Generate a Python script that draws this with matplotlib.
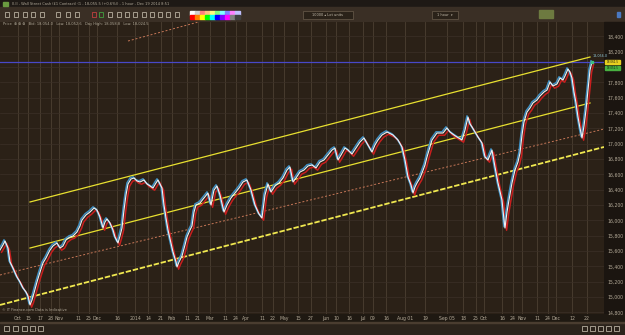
import numpy as np
import matplotlib
matplotlib.use("Agg")
import matplotlib.pyplot as plt
from matplotlib.patches import Rectangle
from matplotlib.transforms import offset_copy

bar = [0, 3, 5, 8, 10, 13, 17, 20, 23, 26, 28, 30, 32, 34, 37, 40, 43, 46, 50, 53,
       57, 60, 63, 66, 70, 73, 77, 80, 82, 86, 90, 94, 97, 100, 103, 105, 107, 110, 113, 115,
       118, 120, 122, 124, 126, 128, 131, 134, 137, 140, 144, 147, 150, 153, 156, 158, 160, 162, 164, 166,
       168, 171, 173, 176, 177, 179, 182, 185, 187, 190, 192, 194, 196, 200, 204, 208, 211, 214, 217, 220,
       224, 227, 231, 235, 239, 243, 247, 251, 255, 259, 262, 265, 268, 271, 275, 279, 283, 287, 290, 293,
       296, 300, 304, 308, 312, 316, 320, 324, 328, 332, 335, 338, 341, 345, 348, 352, 356, 360, 364, 368,
       372, 375, 378, 382, 387, 393, 398, 402, 405, 408, 411, 413, 415, 417, 420, 422, 425, 427, 430, 432,
       437, 443, 447, 450, 454, 457, 462, 465, 468, 470, 472, 475, 478, 482, 485, 488, 492, 495, 498, 502,
       504, 505, 507, 509, 512, 515, 518, 520, 522, 524, 527, 530, 533, 537, 540, 544, 547, 550, 553, 557,
       560, 563, 565, 568, 570, 572, 574, 576, 578, 580, 582, 584, 586, 588, 590, 592]
close = [15613, 15679, 15731, 15639, 15457, 15378, 15261, 15196, 15117, 15065, 15013, 14896, 14961, 15052, 15196, 15326, 15444, 15509, 15613, 15666,
         15705, 15639, 15666, 15744, 15783, 15796, 15848, 15927, 16005, 16070, 16109, 16161, 16135, 16044, 15900, 15979, 16018, 15966, 15874, 15783,
         15705, 15796, 15900, 16135, 16331, 16475, 16540, 16553, 16514, 16501, 16527, 16475, 16449, 16422, 16488, 16527, 16475, 16422, 16200, 16031,
         15874, 15705, 15587, 15457, 15392, 15457, 15535, 15679, 15783, 15874, 15927, 16109, 16200, 16227, 16292, 16357, 16200, 16396, 16449, 16331,
         16109, 16200, 16292, 16357, 16422, 16501, 16527, 16396, 16200, 16083, 16031, 16331, 16475, 16370, 16449, 16488, 16553, 16657, 16697, 16501,
         16553, 16631, 16657, 16710, 16723, 16684, 16762, 16788, 16853, 16918, 16944, 16788, 16853, 16944, 16918, 16866, 16944, 17023, 17075, 16984,
         16892, 16984, 17049, 17114, 17153, 17114, 17049, 16958, 16788, 16566, 16462, 16357, 16436, 16488, 16553, 16618, 16723, 16827, 16958, 17049,
         17140, 17140, 17205, 17153, 17114, 17088, 17049, 17179, 17349, 17258, 17219, 17153, 17088, 17010, 16827, 16788, 16918, 16697, 16488, 16266,
         16005, 15900, 16109, 16266, 16488, 16657, 16762, 16879, 17114, 17284, 17414, 17466, 17532, 17571, 17623, 17675, 17701, 17806, 17754, 17780,
         17858, 17832, 17884, 17975, 17936, 17858, 17675, 17532, 17349, 17205, 17075, 17232, 17440, 17701, 17962, 18067]

# drawn channel lines: (bar0, price0, bar1, price1)
upper_line = (30, 16240, 590, 18132)
middle_line = (30, 15639, 590, 17532)
centre_dotted = (0, 15287, 604, 17192)
lower_line = (0, 14896, 604, 16958)
top_dotted = (128, 18341, 210, 18630)
last_price = 18067

price_levels = list(range(14800, 18401, 200))
date_pos = [18, 28, 40, 51, 59, 78, 89, 97, 117, 135, 148, 161, 172, 187, 198, 210, 225, 236,
            246, 262, 273, 284, 298, 311, 326, 336, 349, 363, 373, 386, 405, 425, 447, 463, 476,
            484, 502, 513, 522, 537, 548, 556, 572, 587]
date_lbl = ["Oct", "15", "17", "28", "Nov", "11", "25", "Dec", "16", "2014", "14", "21", "Feb", "11",
            "21", "Mar", "11", "24", "Apr", "11", "22", "May", "15", "27", "Jun", "10", "16", "Jul",
            "09", "16", "Aug 01", "19", "Sep 05", "18", "25", "Oct", "16", "24", "Nov", "11", "24",
            "Dec", "12", "22"]

W, H = 625, 335
fig = plt.figure(figsize=(W / 100, H / 100), dpi=100)
fig.patch.set_facecolor("#221b15")

# frame of the trading window, in screen pixels
bg = fig.add_axes([0, 0, 1, 1], zorder=0)
bg.set_xlim(0, W)
bg.set_ylim(H, 0)
bg.axis("off")
bg.add_patch(Rectangle((0, 0), W, 7, color="#1e1915"))
bg.add_patch(Rectangle((0, 7), W, 15, color="#3a2f25"))
bg.add_patch(Rectangle((604, 22), 21, 292, color="#1b1510"))
bg.add_patch(Rectangle((0, 314), W, 9, color="#1f1912"))
bg.add_patch(Rectangle((0, 323), W, 12, color="#2b231b"))
bg.add_patch(Rectangle((0, 322), W, 1.2, color="#4a3d30"))
bg.text(12, 3.6, "II.II - Wall Street Cash (£1 Contract) (1 - 18,055.5 (+0.6%)) - 1 hour - Dec 19 2014 8:51",
        fontsize=2.6, color="#b0a898", va="center")
bg.add_patch(Rectangle((3, 1.5), 5, 4, color="#6a9a40"))
# toolbar glyphs
for i, gx in enumerate([5, 14, 23, 31, 40, 56, 66, 75, 92, 99, 108, 117, 125, 133, 142, 150, 158, 166, 175]):
    c = ["#b8b0a0", "#c04040", "#40a040"][1 if i == 8 else 2 if i == 9 else 0]
    bg.add_patch(Rectangle((gx, 12), 4, 5, facecolor="none", edgecolor=c, lw=0.6))
pal = ["#ffffff", "#d0d0d0", "#ff8080", "#ffc080", "#ffff80", "#80ff80", "#80ffff", "#8080ff", "#ff80ff", "#c0c0ff",
       "#ff0000", "#ff8000", "#ffff00", "#00ff00", "#00ffff", "#0000ff", "#8000ff", "#ff00ff", "#808080", "#404040"]
for i, c in enumerate(pal):
    bg.add_patch(Rectangle((190 + (i % 10) * 5, 11 + (i // 10) * 4), 4.6, 3.6, color=c))
bg.add_patch(Rectangle((303, 10.5), 50, 8, facecolor="#2a2219", edgecolor="#6a5c4c", lw=0.5))
bg.text(328, 14.5, "10000 ▴ Lot units", fontsize=2.5, color="#c8c0b0", va="center", ha="center")
bg.add_patch(Rectangle((432, 10.5), 26, 8, facecolor="#2a2219", edgecolor="#6a5c4c", lw=0.5))
bg.text(437, 14.5, "1 hour  ▾", fontsize=2.5, color="#c8c0b0", va="center")
bg.add_patch(Rectangle((539, 10), 14, 8, color="#6d7a40"))
bg.add_patch(Rectangle((617, 12), 3, 5, color="#4a78c0"))
for gx in [582, 590, 598, 606, 614]:
    bg.add_patch(Rectangle((gx, 326), 5, 5, facecolor="none", edgecolor="#b8b0a0", lw=0.6))
for gx in [4, 13, 22, 30, 38]:
    bg.add_patch(Rectangle((gx, 326), 5, 5, facecolor="none", edgecolor="#b8b0a0", lw=0.6))

# chart panel
ax = fig.add_axes([0, (H - 314) / H, 604 / W, 292 / H], zorder=1)
ax.set_facecolor("#2b2117")
ax.set_xlim(0, 604)
ax.set_ylim(14778, 18589)
for s in ax.spines.values():
    s.set_visible(False)

ax.set_xticks(date_pos)
ax.set_xticklabels(date_lbl)
ax.set_yticks(price_levels)
# the 18,000 label sits under the live price tags
ax.set_yticklabels(["" if v == 18000 else f"{v:,}" for v in price_levels])
ax.yaxis.tick_right()
ax.tick_params(axis="x", labelsize=3.3, pad=1.6, length=0, colors="#b4aa98")
ax.tick_params(axis="y", labelsize=3.3, pad=2.5, length=0, colors="#b4aa98")
ax.grid(axis="x", color="#4c3f32", lw=0.6)
ax.grid(axis="y", color="#3b3027", lw=0.5)
ax.set_axisbelow(True)

ax.axhline(last_price, color="#4848c8", lw=0.9)


def seg(line, **kw):
    ax.plot([line[0], line[2]], [line[1], line[3]], **kw)


seg(upper_line, color="#e8e030", lw=0.9)
seg(middle_line, color="#e8e030", lw=0.9)
seg(centre_dotted, color="#c87858", lw=0.7, ls=(0, (2, 2)))
seg(lower_line, color="#f0e850", lw=1.3, ls=(0, (3, 1)))
seg(top_dotted, color="#c87858", lw=0.7, ls=(0, (2, 2)))

# price trace: low-side red, high-side blue, close white
ax.plot(bar, close, color="#c81e1e", lw=1.1, transform=offset_copy(ax.transData, fig=fig, x=1.6, y=-2.2, units="dots"))
ax.plot(bar, close, color="#3e8ec0", lw=1.1, transform=offset_copy(ax.transData, fig=fig, x=-1.0, y=1.2, units="dots"))
ax.plot(bar, close, color="#f2f2f2", lw=0.8)
ax.plot(bar[-1], close[-1], marker="s", ms=1.5, color="#40c080")
ax.text(bar[-1] + 1, close[-1] + 60, "18,056.0", fontsize=2.4, color="#90c8d8")

ax.text(3, 18560, "Price  ⊗ ⊗ ⊗   Bid: 18,054.0   Low: 18,052.6   Day High: 18,058.8   Low: 18,024.5",
        fontsize=2.6, color="#b0a898", va="center")
ax.text(2, 14830, "© IT Finance.com Data is Indicative", fontsize=2.6, color="#b0a898", va="center")

# price tags on the right scale
bg.add_patch(Rectangle((605, 59.5), 15, 4.3, color="#e8d020"))
bg.text(612.5, 61.6, "18,061.5", fontsize=2.0, color="#202010", ha="center", va="center")
bg.add_patch(Rectangle((605, 65.5), 15, 4.3, color="#48b040"))
bg.text(612.5, 67.6, "18,052.5", fontsize=2.0, color="#102010", ha="center", va="center")

fig.savefig("out.png", dpi=100, facecolor=fig.get_facecolor())
